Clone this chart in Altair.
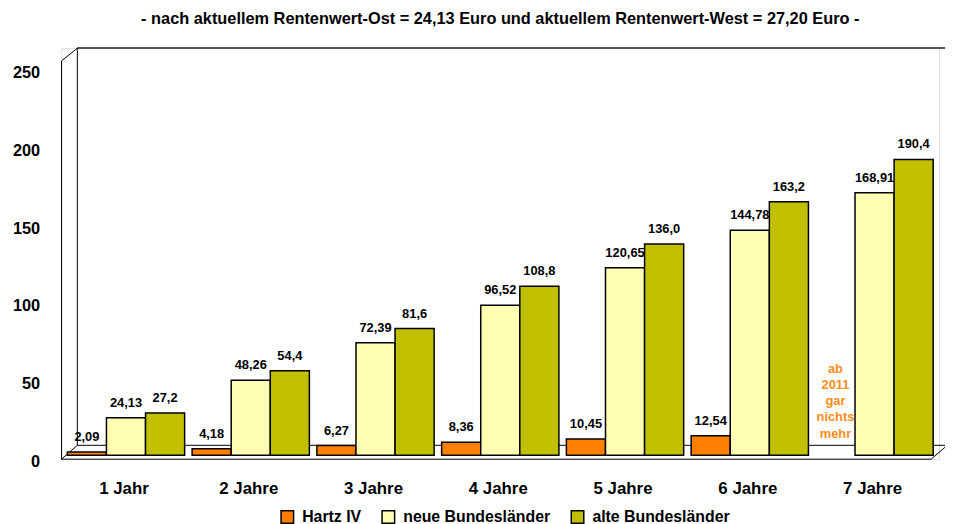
import altair as alt
import pandas as pd

# ---- data ----
categories = ["1 Jahr", "2 Jahre", "3 Jahre", "4 Jahre", "5 Jahre", "6 Jahre", "7 Jahre"]
series = ["Hartz IV", "neue Bundesländer", "alte Bundesländer"]
hartz = [2.09, 4.18, 6.27, 8.36, 10.45, 12.54, None]
hartz_labels = ["2,09", "4,18", "6,27", "8,36", "10,45", "12,54", ""]
neue = [24.13, 48.26, 72.39, 96.52, 120.65, 144.78, 168.91]
neue_labels = ["24,13", "48,26", "72,39", "96,52", "120,65", "144,78", "168,91"]
alte = [27.2, 54.4, 81.6, 108.8, 136.0, 163.2, 190.4]
alte_labels = ["27,2", "54,4", "81,6", "108,8", "136,0", "163,2", "190,4"]
colors = ["#FF8000", "#FFFFB3", "#C0C000"]
y_ticks = [0, 50, 100, 150, 200, 250]
note_category = "7 Jahre"
note_text = "ab\n2011\ngar\nnichts\nmehr"
title_text = "- nach aktuellem Rentenwert-Ost = 24,13 Euro und aktuellem Rentenwert-West = 27,20 Euro -"

rows = []
for s, vals, labs in [(series[0], hartz, hartz_labels),
                      (series[1], neue, neue_labels),
                      (series[2], alte, alte_labels)]:
    for c, v, l in zip(categories, vals, labs):
        if v is not None:
            rows.append({"cat": c, "series": s, "value": v, "label": l})
df = pd.DataFrame(rows)
note_df = pd.DataFrame([{"cat": note_category, "series": series[0], "value": 0, "note": note_text}])

W, H = 886, 415
FONT = "Liberation Sans"

x_enc = alt.X("cat:N", sort=categories,
              scale=alt.Scale(paddingInner=0.06, paddingOuter=0.047),
              axis=alt.Axis(title=None, labelAngle=0, labelFontSize=17, labelFontWeight="bold",
                            labelColor="black", ticks=False, domain=False, labelPadding=22,
                            labelOffset=-2))
xo_enc = alt.XOffset("series:N", sort=series, scale=alt.Scale(domain=series, paddingInner=0, paddingOuter=0))
y_enc = alt.Y("value:Q", scale=alt.Scale(domain=[-2.5, 262], nice=False, zero=False),
              axis=alt.Axis(values=y_ticks, title=None, grid=False, ticks=False, domain=False,
                            labelFontSize=16.5, labelFontWeight="bold", labelColor="black",
                            labelPadding=22, minExtent=54, maxExtent=54, labelOffset=6))

bars = alt.Chart(df).mark_bar(stroke="black", strokeWidth=1.5).encode(
    x=x_enc, xOffset=xo_enc, y=y_enc,
    color=alt.Color("series:N", sort=series, scale=alt.Scale(domain=series, range=colors),
                    legend=alt.Legend(title=None, orient="none", direction="horizontal",
                                      legendX=220, legendY=H + 50,
                                      symbolType="square", symbolSize=160,
                                      symbolStrokeColor="black", symbolStrokeWidth=1.5,
                                      labelFontSize=16, labelFontWeight="bold", labelColor="black",
                                      labelOffset=7, columnPadding=17)),
)

labels = alt.Chart(df).mark_text(baseline="bottom", dy=-8, fontSize=13, fontWeight="bold",
                                 color="black").encode(
    x=alt.X("cat:N", sort=categories), xOffset=alt.XOffset("series:N", sort=series),
    y="value:Q", text="label:N")

note = alt.Chart(note_df).mark_text(baseline="bottom", dy=-80, fontSize=13, fontWeight="bold",
                                    color="#FF8C1A", lineBreak="\n", lineHeight=16.3).encode(
    x=alt.X("cat:N", sort=categories), xOffset=alt.XOffset("series:N", sort=series),
    y="value:Q", text="note:N")

one = pd.DataFrame({"k": [0]})
def seg(x1, y1, x2, y2, color="black", w=1):
    return alt.Chart(one).mark_rule(color=color, strokeWidth=w).encode(
        x=alt.value(x1), y=alt.value(y1), x2=alt.value(x2), y2=alt.value(y2))

frame = [
    seg(16, 0, W + 6, 0, "#555555", 2),       # back wall top
    seg(16, 0, 16, H - 14),                   # back wall left
    seg(16, H - 14, W + 6, H - 14),           # floor back edge
    seg(0, 13, 0, H),                         # left wall front
    seg(0, 13, 16, 0),                        # left wall top diagonal
    seg(0, H, 16, H - 14),                    # floor left diagonal
    seg(0, H, W - 8, H),                      # floor front
    seg(W - 8, H, W + 6, H - 12),             # floor right diagonal
]

chart = alt.layer(*frame, bars, labels, note).properties(
    width=W, height=H,
    title=alt.TitleParams(text=title_text, fontSize=16.5, fontWeight="bold", anchor="middle",
                          offset=20, color="black"),
    padding={"left": 0, "top": 0, "right": 0, "bottom": 0},
).configure_view(stroke=None).configure(font=FONT)

chart.save("out.html", embed_options={"renderer": "svg", "actions": False})
